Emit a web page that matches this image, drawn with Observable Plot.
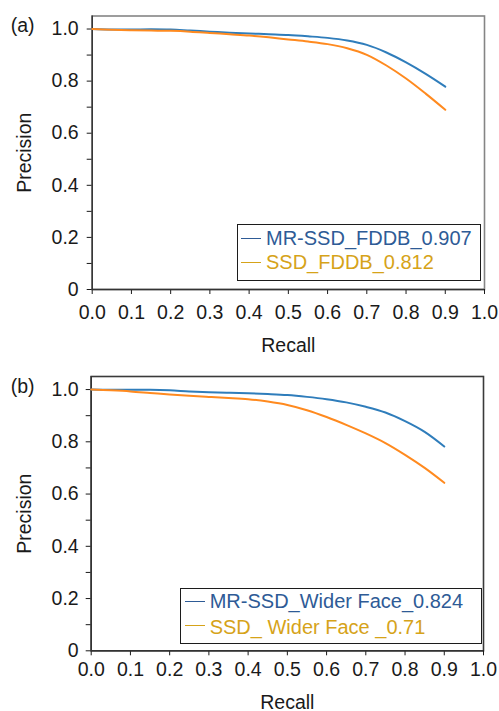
<!DOCTYPE html>
<html>
<head>
<meta charset="utf-8">
<script src="https://cdn.jsdelivr.net/npm/d3@7"></script>
<script src="https://cdn.jsdelivr.net/npm/@observablehq/plot@0.6"></script>
<style>
  html, body { margin: 0; padding: 0; background: #fff; }
  body { width: 499px; height: 711px; overflow: hidden; font-family: "Liberation Sans", Arial, sans-serif; }
  .panel { position: relative; width: 499px; }
  .panel svg { display: block; }
  .legend { position: absolute; box-sizing: border-box; border: 1.6px solid #1c1c1c; background: #fff; }
  .legend .txt { position: absolute; font-size: 20px; line-height: 20px; white-space: pre; }
  .legend .sw { position: absolute; width: 20px; height: 0; border-top: 1.4px solid; }
</style>
</head>
<body>
<div class="panel" id="pa" style="height:356px"></div>
<div class="panel" id="pb" style="height:355px"></div>
<script>
// ---- data ----
const recall = [0, 0.05, 0.1, 0.15, 0.2, 0.25, 0.3, 0.35, 0.4, 0.45, 0.5, 0.55, 0.6, 0.65, 0.7, 0.75, 0.8, 0.85, 0.9];
const mrssdFddb  = [1.0, 0.998, 0.998, 0.999, 0.998, 0.994, 0.990, 0.986, 0.983, 0.980, 0.977, 0.972, 0.966, 0.956, 0.939, 0.910, 0.872, 0.828, 0.779];
const ssdFddb    = [1.0, 0.997, 0.995, 0.994, 0.993, 0.990, 0.985, 0.980, 0.975, 0.968, 0.960, 0.952, 0.942, 0.926, 0.901, 0.860, 0.810, 0.752, 0.690];
const mrssdWider = [1.0, 0.999, 0.999, 0.999, 0.997, 0.993, 0.990, 0.988, 0.986, 0.983, 0.979, 0.972, 0.963, 0.951, 0.934, 0.912, 0.879, 0.838, 0.782];
const ssdWider   = [1.0, 0.997, 0.993, 0.987, 0.981, 0.976, 0.972, 0.968, 0.963, 0.954, 0.941, 0.921, 0.895, 0.865, 0.832, 0.795, 0.750, 0.700, 0.643];

const namesA = ["MR-SSD_FDDB_0.907", "SSD_FDDB_0.812"];
const namesB = ["MR-SSD_Wider Face_0.824", "SSD_ Wider Face _0.71"];
const panelLetters = ["(a)", "(b)"];

const xTicks = [0, 0.1, 0.2, 0.3, 0.4, 0.5, 0.6, 0.7, 0.8, 0.9, 1.0];
const xTickLabels = ["0.0", "0.1", "0.2", "0.3", "0.4", "0.5", "0.6", "0.7", "0.8", "0.9", "1.0"];
const yTicks = [0, 0.1, 0.2, 0.3, 0.4, 0.5, 0.6, 0.7, 0.8, 0.9, 1.0];
const yTickLabels = ["0", "", "0.2", "", "0.4", "", "0.6", "", "0.8", "", "1.0"];

const lineColors = ["#2f7dbb", "#ff8a1f"];
const legendColors = ["#2e5b96", "#d6a319"];

function makePanel(cfg) {
  const rows = recall.flatMap((r, i) => cfg.series.map(s => ({recall: r, precision: s.values[i], name: s.name})));
  const svg = Plot.plot({
    width: 499,
    height: cfg.height,
    marginTop: cfg.mt,
    marginBottom: cfg.mb,
    marginLeft: cfg.ml,
    marginRight: cfg.mr,
    style: {fontFamily: "'Liberation Sans', Arial, sans-serif", fontSize: "19.5px", color: "#1a1a1a", background: "#fff", overflow: "visible"},
    x: {domain: [0, 1]},
    y: {domain: [0, 1.05]},
    color: {domain: cfg.series.map(s => s.name), range: lineColors},
    marks: [
      Plot.frame({stroke: cfg.frameStroke, strokeWidth: 1.6}),
      Plot.axisX({ticks: xTicks, tickFormat: d => xTickLabels[xTicks.indexOf(d)], tickSize: 5, tickPadding: cfg.xPad,
        label: "Recall", labelAnchor: "center", labelArrow: "none", labelOffset: cfg.xLabelOffset}),
      Plot.axisY({ticks: yTicks, tickFormat: d => yTickLabels[yTicks.indexOf(d)], tickSize: 5, tickPadding: cfg.yPad,
        label: "Precision", labelAnchor: "center", labelArrow: "none", labelOffset: cfg.yLabelOffset}),
      Plot.ruleX([0], {stroke: "#333", strokeWidth: 1.5}),
      Plot.ruleY([0], {stroke: "#333", strokeWidth: 1.5}),
      Plot.line(rows, {x: "recall", y: "precision", z: "name", stroke: "name", strokeWidth: 2, curve: "catmull-rom"}),
      Plot.text([cfg.letter], {frameAnchor: "top-left", text: d => d, textAnchor: "start", lineAnchor: "bottom", dx: cfg.letterDx, dy: cfg.letterDy})
    ]
  });
  const host = document.getElementById(cfg.id);
  host.appendChild(svg);

  // legend
  const lg = document.createElement("div");
  lg.className = "legend";
  Object.assign(lg.style, cfg.legend.box);
  cfg.series.forEach((s, i) => {
    const sw = document.createElement("div");
    sw.className = "sw";
    sw.style.left = cfg.legend.swLeft + "px";
    sw.style.top = cfg.legend.swTop[i] + "px";
    sw.style.borderTopColor = legendColors[i];
    const t = document.createElement("div");
    t.className = "txt";
    t.textContent = s.name;
    t.style.left = cfg.legend.txtLeft + "px";
    t.style.top = cfg.legend.txtTop[i] + "px";
    t.style.color = legendColors[i];
    lg.appendChild(sw);
    lg.appendChild(t);
  });
  host.appendChild(lg);
}

makePanel({
  id: "pa", height: 356, mt: 15.5, mb: 67, ml: 91.7, mr: 15,
  frameStroke: "#858585", xPad: 11, yPad: 8.5, xLabelOffset: 62.5, yLabelOffset: 75,
  letter: panelLetters[0], letterDx: -81.5, letterDy: 15.5,
  series: [{name: namesA[0], values: mrssdFddb}, {name: namesA[1], values: ssdFddb}],
  legend: {box: {left: "237px", top: "224px", width: "244px", height: "57px"},
    swLeft: 3.2, swTop: [12.8, 37.1], txtLeft: 28, txtTop: [2.6, 26.9]}
});

makePanel({
  id: "pb", height: 355, mt: 20, mb: 60.7, ml: 90.7, mr: 16,
  frameStroke: "#3a3a3a", xPad: 6.4, yPad: 7.5, xLabelOffset: 57.7, yLabelOffset: 74,
  letter: panelLetters[1], letterDx: -80.5, letterDy: 16.5,
  series: [{name: namesB[0], values: mrssdWider}, {name: namesB[1], values: ssdWider}],
  legend: {box: {left: "180px", top: "231.7px", width: "302px", height: "56.3px"},
    swLeft: 3.5, swTop: [12.4, 36.8], txtLeft: 28.7, txtTop: [2.2, 27.9]}
});
</script>
</body>
</html>
